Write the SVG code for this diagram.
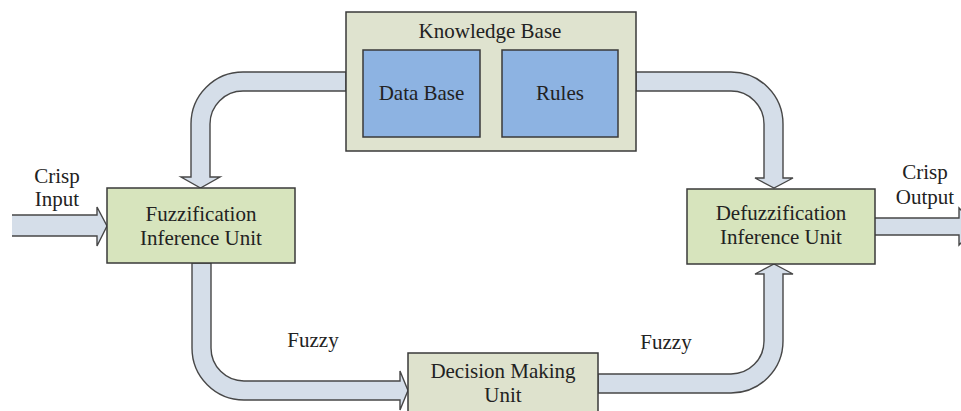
<svg xmlns="http://www.w3.org/2000/svg" width="961" height="411" viewBox="0 0 961 411">
  <style>
    text { font-family: 'Liberation Serif', 'Times New Roman', Tinos, 'DejaVu Serif', serif; font-size: 21px; fill: #222; text-anchor: middle; }
    .box { stroke: #3a3a3a; stroke-width: 1.5; }
    .kb { fill: #dfe3cf; }
    .unit { fill: #d7e4bd; }
    .dec { fill: #dee2cd; }
    .inner { fill: #8db3e2; stroke: #3a3a3a; stroke-width: 1.5; }
    .flow { fill: #d5dee9; stroke: #474747; stroke-width: 1.4; stroke-linejoin: miter; }
  </style>
  <rect width="961" height="411" fill="#ffffff"/>

  <!-- block arrows between the units -->
  <g id="connectors">
    <!-- knowledge base to fuzzification -->
    <path class="flow" d="M346,72 L243,72 A52,52 0 0 0 191,124 L191,177 L181,177 L200.5,188 L220,177 L210,177 L210,124 A33,33 0 0 1 243,91 L346,91 Z"/>
    <!-- knowledge base to defuzzification -->
    <path class="flow" d="M636,72 L731,72 A52,52 0 0 1 783,124 L783,178 L793,178 L774,188 L755,178 L764,178 L764,124 A33,33 0 0 0 731,91 L636,91 Z"/>
    <!-- fuzzification to decision making -->
    <path class="flow" d="M192,263 L192,348 A52,52 0 0 0 244,400 L400,400 L400,410 L408,390.5 L400,371 L400,381 L244,381 A33,33 0 0 1 211,348 L211,263 Z"/>
    <!-- decision making to defuzzification -->
    <path class="flow" d="M598,374 L731,374 A33,33 0 0 0 764,341 L764,274 L755,274 L774,264 L793,274 L783,274 L783,341 A52,52 0 0 1 731,393 L598,393 Z"/>
    <!-- crisp input (open tail) -->
    <path class="flow" d="M12,215 L97,215 L97,207 L107,226 L97,246 L97,236 L12,236"/>
    <!-- crisp output (runs off the right edge) -->
    <path class="flow" d="M875,218 L959,218 L959,208 L977,226.5 L959,245 L959,235 L875,235"/>

    <text font-family="Liberation Serif, serif" x="57" y="183">Crisp</text>
    <text font-family="Liberation Serif, serif" x="57" y="206">Input</text>
    <text font-family="Liberation Serif, serif" x="925" y="179">Crisp</text>
    <text font-family="Liberation Serif, serif" x="925" y="204">Output</text>
    <text font-family="Liberation Serif, serif" x="313" y="347">Fuzzy</text>
    <text font-family="Liberation Serif, serif" x="666" y="349">Fuzzy</text>
  </g>

  <g id="knowledge-base">
    <rect class="box kb" x="346" y="12" width="290" height="139"/>
    <text font-family="Liberation Serif, serif" x="490" y="38">Knowledge Base</text>
    <g id="data-base">
      <rect class="inner" x="363" y="50" width="117" height="87"/>
      <text font-family="Liberation Serif, serif" x="421.5" y="100">Data Base</text>
    </g>
    <g id="rules">
      <rect class="inner" x="502" y="50" width="116" height="87"/>
      <text font-family="Liberation Serif, serif" x="560" y="100">Rules</text>
    </g>
  </g>

  <g id="fuzzification">
    <rect class="box unit" x="107" y="188" width="188" height="75"/>
    <text font-family="Liberation Serif, serif" x="201" y="221">Fuzzification</text>
    <text font-family="Liberation Serif, serif" x="201" y="245">Inference Unit</text>
  </g>

  <g id="defuzzification">
    <rect class="box unit" x="687" y="189" width="188" height="75"/>
    <text font-family="Liberation Serif, serif" x="781" y="220">Defuzzification</text>
    <text font-family="Liberation Serif, serif" x="781" y="244">Inference Unit</text>
  </g>

  <g id="decision-making">
    <rect class="box dec" x="408" y="353" width="190" height="70"/>
    <text font-family="Liberation Serif, serif" x="503" y="378">Decision Making</text>
    <text font-family="Liberation Serif, serif" x="503" y="402">Unit</text>
  </g>
</svg>
